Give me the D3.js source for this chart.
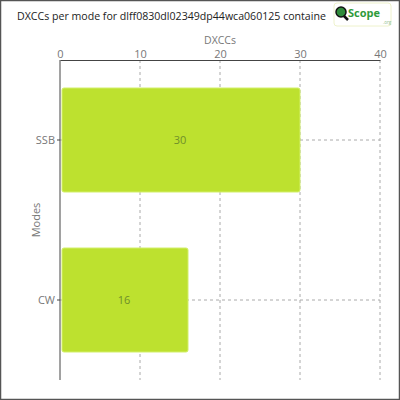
<!DOCTYPE html>
<html>
<head>
<meta charset="utf-8">
<script src="https://cdn.jsdelivr.net/npm/d3@7"></script>
<style>
  body { margin: 0; background: #fff; }
  text { font-family: "Open Sans", "DejaVu Sans", sans-serif; }
</style>
</head>
<body>
<div id="container"></div>
<script>
// chart data
const modes = ["SSB", "CW"];
const dxccs = [30, 16];
const xTicks = [0, 10, 20, 30, 40];
// the title is cut off by the logo in the original
const title = "DXCCs per mode for dlff0830dl02349dp44wca060125 containe";

const width = 400;
const height = 400;
const svg = d3.create("svg")
  .attr("width", width)
  .attr("height", height);
container.append(svg.node());

// outer frame
svg.append("rect")
  .attr("x", 0.5).attr("y", 0.5)
  .attr("width", width - 1).attr("height", height - 1)
  .attr("fill", "#fff")
  .attr("stroke", "#555")
  .attr("stroke-width", 1.5);

const m = { left: 60, right: 380, top: 60, bottom: 380 };

const x = d3.scaleLinear()
  .domain([0, 40])
  .range([m.left, m.right]);

const y = d3.scaleBand()
  .domain(modes)
  .range([m.top, m.bottom])
  .paddingInner(0.35)
  .paddingOuter(0.175);

// vertical grid lines
svg.append("g")
  .selectAll("line")
  .data(xTicks.slice(1))
  .join("line")
  .attr("x1", d => x(d)).attr("x2", d => x(d))
  .attr("y1", m.top).attr("y2", m.bottom)
  .attr("stroke", "#aaa")
  .attr("stroke-dasharray", "3,3");

// horizontal grid lines at categories
svg.append("g")
  .selectAll("line")
  .data(modes)
  .join("line")
  .attr("x1", m.left).attr("x2", m.right)
  .attr("y1", d => y(d) + y.bandwidth() / 2)
  .attr("y2", d => y(d) + y.bandwidth() / 2)
  .attr("stroke", "#aaa")
  .attr("stroke-dasharray", "3,3");

// bars
svg.append("g")
  .selectAll("rect")
  .data(modes)
  .join("rect")
  .attr("x", x(0) + 2)
  .attr("y", d => y(d))
  .attr("width", (d, i) => x(dxccs[i]) - x(0) - 2)
  .attr("height", y.bandwidth())
  .attr("rx", 2)
  .attr("fill", "#bde12f")
  .attr("stroke", "#d2ef6a")
  .attr("stroke-width", 1);

// value labels
svg.append("g")
  .selectAll("text")
  .data(modes)
  .join("text")
  .attr("x", (d, i) => (x(0) + x(dxccs[i])) / 2)
  .attr("y", d => y(d) + y.bandwidth() / 2)
  .attr("dy", "0.35em")
  .attr("text-anchor", "middle")
  .attr("font-size", 11)
  .attr("fill", "#6f8f2a")
  .text((d, i) => dxccs[i]);

// top axis
const xAxis = svg.append("g")
  .attr("transform", `translate(0,${m.top})`)
  .call(d3.axisTop(x).tickValues(xTicks).tickSize(0).tickPadding(2));
xAxis.select(".domain").attr("stroke", "#444");
xAxis.selectAll(".tick text")
  .attr("font-family", "'Open Sans', sans-serif")
  .attr("font-size", 11)
  .attr("fill", "#777");

// left axis
const yAxis = svg.append("g")
  .attr("transform", `translate(${m.left},0)`)
  .call(d3.axisLeft(y).tickSize(3).tickPadding(2));
yAxis.select(".domain").attr("stroke", "#444").attr("d", `M0,${m.top}V${m.bottom}`);
yAxis.selectAll(".tick line").attr("stroke", "#444");
yAxis.selectAll(".tick text")
  .attr("font-family", "'Open Sans', sans-serif")
  .attr("font-size", 11)
  .attr("fill", "#777");

// axis titles
svg.append("text")
  .attr("x", (m.left + m.right) / 2)
  .attr("y", 44)
  .attr("text-anchor", "middle")
  .attr("font-size", 10.5)
  .attr("fill", "#777")
  .text("DXCCs");

svg.append("text")
  .attr("transform", `translate(40,${(m.top + m.bottom) / 2}) rotate(-90)`)
  .attr("text-anchor", "middle")
  .attr("font-size", 11)
  .attr("fill", "#777")
  .text("Modes");

// title
svg.append("text")
  .attr("x", 17)
  .attr("y", 20)
  .attr("font-size", 10.6)
  .attr("fill", "#222")
  .text(title);

// logo
const logo = svg.append("g").attr("transform", "translate(334,3)");
logo.append("rect")
  .attr("width", 57).attr("height", 23).attr("rx", 3)
  .attr("fill", "#fff").attr("stroke", "#eef2cc");
logo.append("circle")
  .attr("cx", 7).attr("cy", 9).attr("r", 5)
  .attr("fill", "#2e8b3a").attr("stroke", "#111").attr("stroke-width", 1.5);
logo.append("line")
  .attr("x1", 10).attr("y1", 13).attr("x2", 14).attr("y2", 17)
  .attr("stroke", "#111").attr("stroke-width", 2.5);
logo.append("text")
  .attr("x", 14).attr("y", 14)
  .attr("font-size", 11).attr("font-weight", "bold")
  .attr("fill", "#2e9b3a")
  .text("Scope");
logo.append("text")
  .attr("x", 49).attr("y", 21)
  .attr("font-size", 4.5)
  .attr("fill", "#8fc08f")
  .text(".org");
</script>
</body>
</html>
